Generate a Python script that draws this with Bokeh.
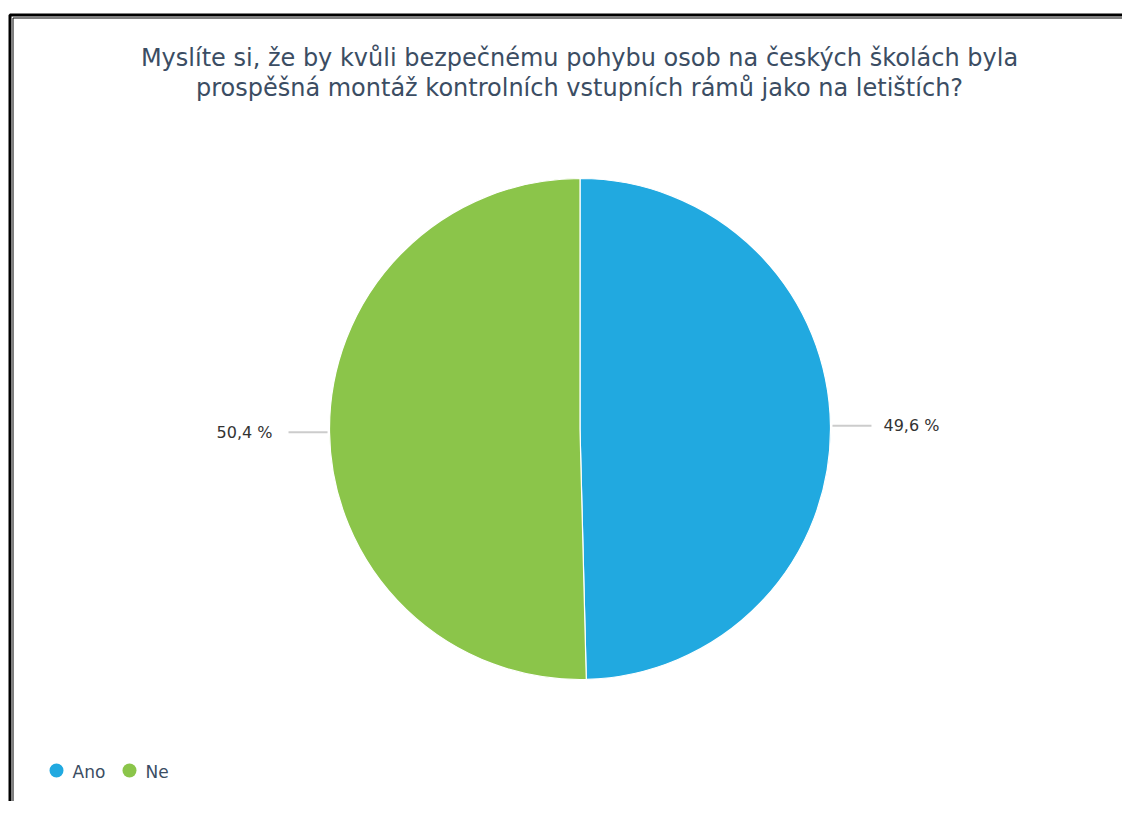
import math
from bokeh.plotting import figure
from bokeh.models import Range1d, BoxAnnotation, ColumnDataSource
from bokeh.core.properties import value
from bokeh.embed import file_html
from bokeh.resources import INLINE

# ---- data ----
title_lines = [
    "Myslíte si, že by kvůli bezpečnému pohybu osob na českých školách byla",
    "prospěšná montáž kontrolních vstupních rámů jako na letištích?",
]
categories = ["Ano", "Ne"]
percent = [49.6, 50.4]
colors = ["#21a9e0", "#8bc54a"]
label_texts = ["49,6 %", "50,4 %"]

# ---- layout ----
W, H = 1122, 801
CX, CY, R = 579.5, 372.5, 250.5
TITLE_COLOR = "#3b4d63"
FONT = "DejaVu Sans"

p = figure(width=W, height=H, output_backend="svg", toolbar_location=None,
           x_range=Range1d(0, W), y_range=Range1d(0, H), min_border=0)
p.axis.visible = False
p.grid.visible = False
p.outline_line_color = None
p.background_fill_color = "white"
p.border_fill_color = "white"

# frame borders (double line at left and top)
p.add_layout(BoxAnnotation(left=9.5, right=W + 50, bottom=-50, top=786.5,
                           fill_alpha=0, line_color="black", line_alpha=1,
                           line_width=3))
p.add_layout(BoxAnnotation(left=12.5, right=W + 50, bottom=-50, top=783.5,
                           fill_alpha=0, line_color="black", line_alpha=1,
                           line_width=1))

# pie wedges, clockwise from 12 o'clock
total = sum(percent)
starts, ends, mids = [], [], []
cum = 0.0
for v in percent:
    a0 = cum / total
    cum += v
    a1 = cum / total
    starts.append(math.pi / 2 - 2 * math.pi * a1)
    ends.append(math.pi / 2 - 2 * math.pi * a0)
    mids.append(math.pi / 2 - 2 * math.pi * (a0 + a1) / 2)

src = ColumnDataSource(dict(cat=categories, val=percent, color=colors,
                            start=starts, end=ends))
p.wedge(x=CX, y=CY, radius=R, start_angle="start", end_angle="end",
        direction="anticlock", fill_color="color", line_color="white",
        line_width=1.2, source=src)

# data labels with leader lines
for m, txt in zip(mids, label_texts):
    px = CX + R * math.cos(m)
    py = CY + R * math.sin(m)
    side = 1 if math.cos(m) >= 0 else -1
    p.segment(x0=px + side * 2, y0=py, x1=px + side * 41, y1=py,
              line_color="#cccccc", line_width=2)
    if side > 0:
        p.text(x=[px + 53], y=[py], text=[txt], text_align="left",
               text_baseline="middle", text_font=value(FONT),
               text_font_size="16px", text_color="#333333")
    else:
        p.text(x=[px - 57], y=[py], text=[txt], text_align="right",
               text_baseline="middle", text_font=value(FONT),
               text_font_size="16px", text_color="#333333")

# title
title_y = [744, 714]
p.text(x=[579] * len(title_lines), y=title_y, text=title_lines,
       text_align="center", text_baseline="middle",
       text_font=value(FONT), text_font_size="24px", text_color=TITLE_COLOR)

# legend
legend_x = [56, 129]
legend_y = 31
p.scatter(x=legend_x, y=[legend_y] * len(legend_x), size=14,
          fill_color=colors, line_color=None, marker="circle")
p.text(x=[lx + 16 for lx in legend_x], y=[legend_y - 1] * len(legend_x),
       text=categories, text_align="left", text_baseline="middle",
       text_font=value(FONT), text_font_size="17px", text_color=TITLE_COLOR)

open("out.html", "w").write(file_html(p, INLINE))
